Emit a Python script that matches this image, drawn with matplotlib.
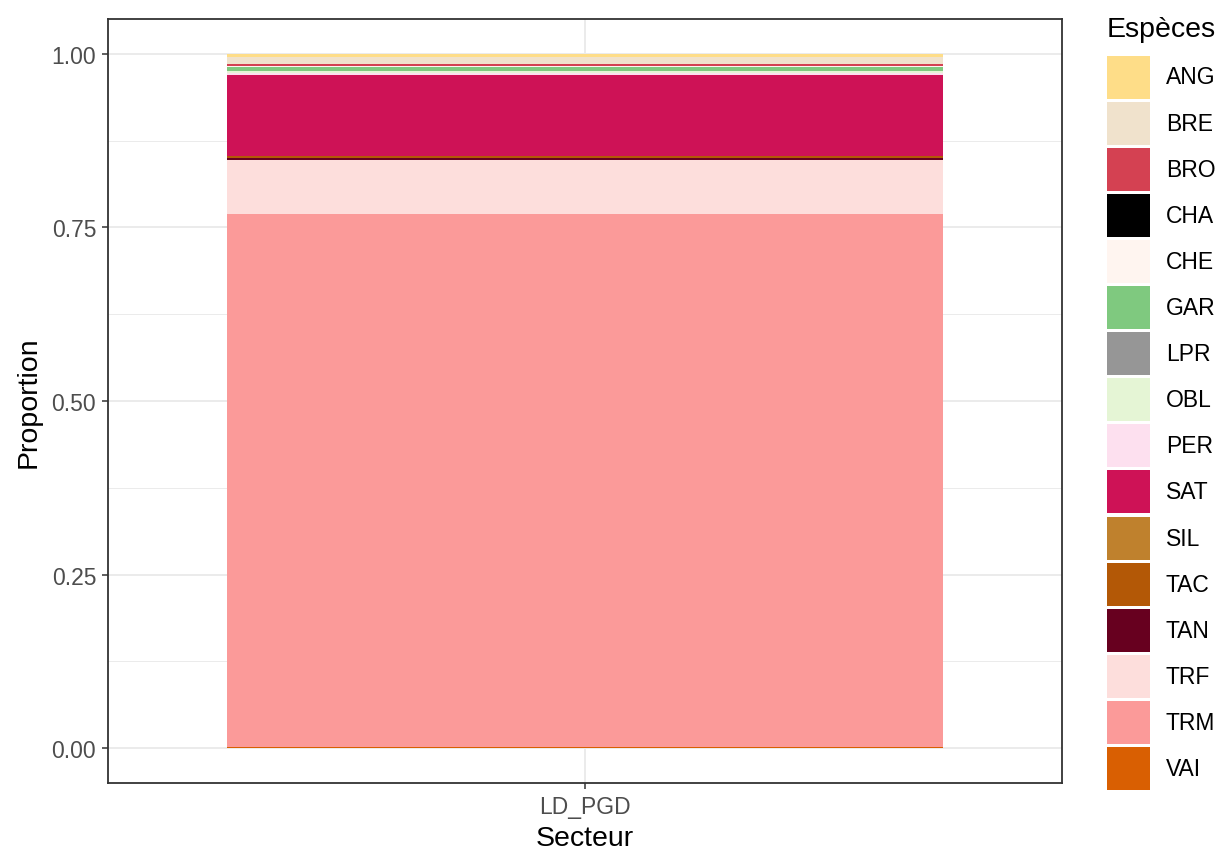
import matplotlib
matplotlib.use("Agg")
import matplotlib.pyplot as plt
from matplotlib.patches import Rectangle

plt.rcParams['font.family'] = ['Liberation Sans', 'DejaVu Sans']

secteur = ["LD_PGD"]
especes = ["ANG", "BRE", "BRO", "CHA", "CHE", "GAR", "LPR", "OBL", "PER",
           "SAT", "SIL", "TAC", "TAN", "TRF", "TRM", "VAI"]
proportions = [0.004, 0.0115, 0.002, 0.0005, 0.0015, 0.0053, 0.0005, 0.002, 0.004,
               0.116, 0.0005, 0.003, 0.0015, 0.0785, 0.7677, 0.0015]
couleurs = ["#FEDD88", "#F0E2CC", "#D44152", "#000000", "#FFF5F0", "#7FC97F",
            "#969696", "#E5F5D5", "#FDE0EF", "#CE1256", "#BF812D", "#B35806",
            "#67001F", "#FDDEDC", "#FB9A99", "#D95F02"]

W, H = 1221, 854
fig = plt.figure(figsize=(W / 100, H / 100), dpi=100)
L, R, T, B = 108, 1062, 20, 784
ax = fig.add_axes([L / W, 1 - B / H, (R - L) / W, (B - T) / H])

# stacked bar: last level at bottom (ggplot order)
bottom = 0.0
for sp, val, col in reversed(list(zip(especes, proportions, couleurs))):
    ax.bar(0, val, bottom=bottom, width=0.9, color=col, linewidth=0, zorder=3)
    bottom += val

ax.set_xlim(-0.6, 0.6)
ax.set_ylim(-0.05, 1.05)
ax.set_xticks([0])
ax.set_xticklabels(secteur)
yt = [0, 0.25, 0.5, 0.75, 1.0]
ax.set_yticks(yt)
ax.set_yticklabels(["0.00", "0.25", "0.50", "0.75", "1.00"])
ax.set_yticks([0.125, 0.375, 0.625, 0.875], minor=True)

ax.grid(True, which='major', color='#EBEBEB', linewidth=1.4, zorder=0)
ax.grid(True, which='minor', axis='y', color='#EBEBEB', linewidth=0.7, zorder=0)
ax.tick_params(which='minor', length=0)
ax.tick_params(which='major', length=4.5, width=1.1, color='#333333',
               labelsize=16.5, labelcolor='#4D4D4D', pad=4)
for s in ax.spines.values():
    s.set_color('#333333')
    s.set_linewidth(1.3)
ax.set_axisbelow(True)

ax.set_xlabel("Secteur", fontsize=20.5, labelpad=5)
ax.set_ylabel("Proportion", fontsize=20.5, labelpad=7)

# legend drawn manually
fig.text(1107 / W, 1 - 30 / H, "Espèces", fontsize=20.5, ha='left', va='center')
key_top, pitch, key_h, key_w = 56.5, 46.1, 43, 43
for i, (sp, col) in enumerate(zip(especes, couleurs)):
    y0 = key_top + i * pitch
    fig.patches.append(Rectangle((1107 / W, 1 - (y0 + key_h) / H), key_w / W, key_h / H,
                                 transform=fig.transFigure, facecolor=col,
                                 edgecolor='none', figure=fig))
    fig.text(1166 / W, 1 - (y0 + key_h / 2) / H, sp, fontsize=16.5,
             ha='left', va='center')

fig.savefig("out.png", dpi=100)
